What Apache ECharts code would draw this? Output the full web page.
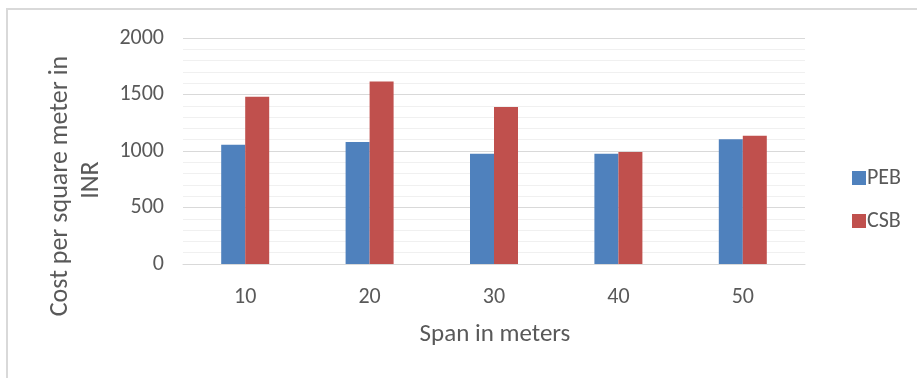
<!DOCTYPE html>
<html>
<head>
<meta charset="utf-8">
<script src="https://cdn.jsdelivr.net/npm/echarts@6/dist/echarts.min.js"></script>
<style>
html,body{margin:0;padding:0;background:#fff;}
#c{width:917px;height:378px;}
</style>
</head>
<body>
<div id="c"></div>
<script>
const categories = ['10', '20', '30', '40', '50'];
const peb = [1056, 1080, 976, 976, 1103];
const csb = [1481, 1614, 1389, 991, 1136];
const yTicks = [0, 500, 1000, 1500, 2000];

const FONT = 'Carlito, Lato, sans-serif';
const TXT = '#595959';

const chart = echarts.init(document.getElementById('c'), null, {renderer: 'canvas'});
chart.setOption({
  backgroundColor: '#fff',
  animation: false,
  graphic: [
    {type: 'rect', shape: {x: 7, y: 9, width: 960, height: 420}, style: {fill: 'none', stroke: '#d9d9d9', lineWidth: 2}, z: -1},
    {type: 'text', x: 60, y: 186, rotation: Math.PI / 2,
     style: {text: 'Cost per square meter in', font: '26px ' + FONT, fill: TXT, textAlign: 'center', textVerticalAlign: 'middle'}},
    {type: 'text', x: 91, y: 180, rotation: Math.PI / 2,
     style: {text: 'INR', font: '26px ' + FONT, fill: TXT, textAlign: 'center', textVerticalAlign: 'middle'}},
    {type: 'text', x: 495, y: 335,
     style: {text: 'Span in meters', font: '25px ' + FONT, fill: TXT, textAlign: 'center', textVerticalAlign: 'middle'}}
  ],
  legend: {
    orient: 'vertical',
    left: 847,
    top: 162,
    itemWidth: 14,
    itemHeight: 14,
    itemGap: 21,
    icon: 'rect',
    textStyle: {fontFamily: FONT, fontSize: 22, color: TXT, padding: [0, 0, 0, -4]},
    data: ['PEB', 'CSB']
  },
  grid: {left: 183, right: 112, top: 38, bottom: 114, containLabel: false},
  xAxis: {
    type: 'category',
    data: categories,
    axisLine: {lineStyle: {color: '#d9d9d9', width: 1}},
    axisTick: {show: false},
    axisLabel: {color: TXT, fontFamily: FONT, fontSize: 22, margin: 22}
  },
  yAxis: {
    type: 'value',
    min: yTicks[0],
    max: yTicks[yTicks.length - 1],
    interval: 500,
    axisLine: {show: false},
    axisTick: {show: false},
    axisLabel: {color: TXT, fontFamily: FONT, fontSize: 22, margin: 19, formatter: function (v) { return String(v); }},
    splitLine: {lineStyle: {color: '#d9d9d9', width: 1}},
    minorTick: {show: false, splitNumber: 5},
    minorSplitLine: {show: true, lineStyle: {color: '#f0f0f0', width: 1}}
  },
  series: [
    {name: 'PEB', type: 'bar', data: peb, barWidth: 24, barGap: '0%',
     itemStyle: {color: '#4f81bd'}},
    {name: 'CSB', type: 'bar', data: csb, barWidth: 24, barGap: '0%',
     itemStyle: {color: '#c0504d'}}
  ]
});
</script>
</body>
</html>
